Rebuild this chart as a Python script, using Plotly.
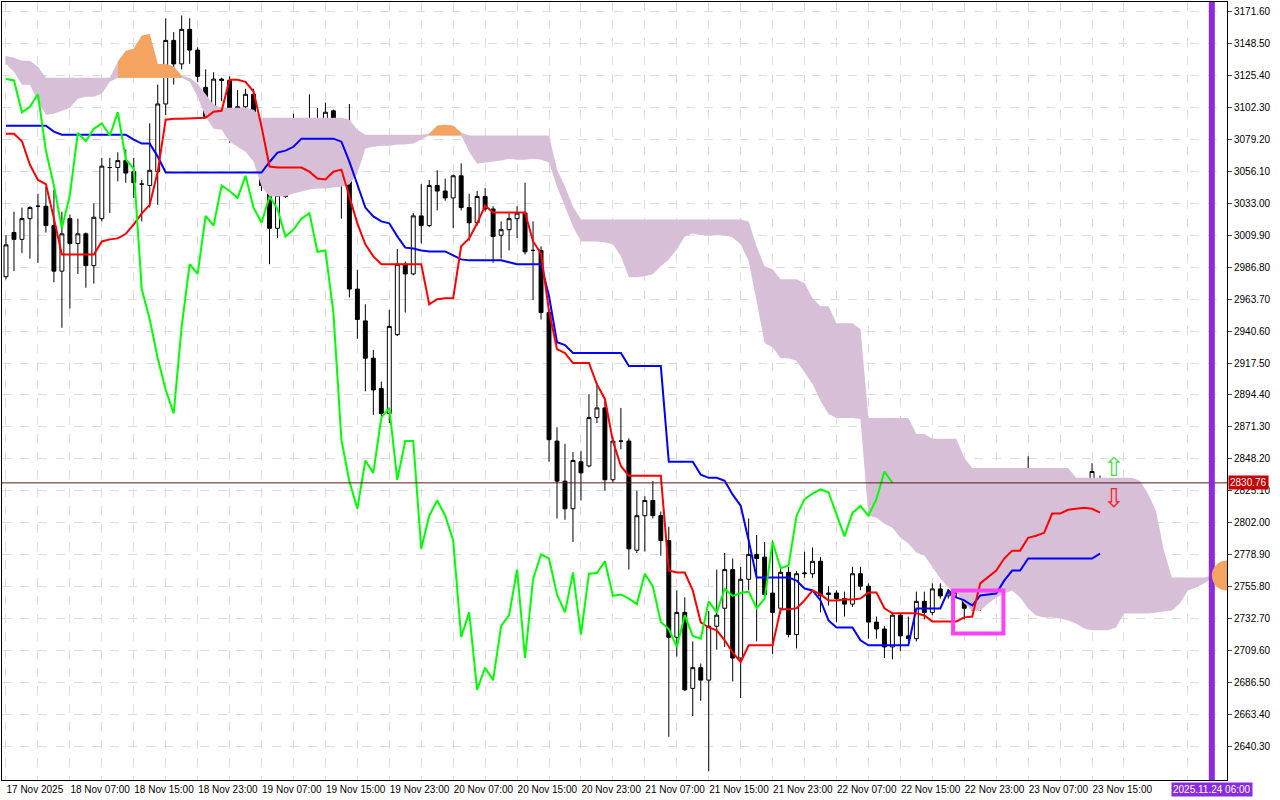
import plotly.graph_objects as go

# hourly bars, bar 0 = 17 Nov 2025 23:00
opens = [2980, 3012, 3007, 3022, 3031, 3031, 3017, 2984, 3022, 3004,
         3011, 2988, 3022, 3059, 3059, 3064, 3056, 3047, 3046, 3056,
         3105, 3151, 3134, 3159, 3144, 3117, 3096, 3123, 3122, 3099,
         3103, 3112, 3071, 3047, 3015, 3038, 3084, 3078, 3087, 3091,
         3082, 3100, 3066, 3059, 2971, 2948, 2921, 2899, 2881, 2938,
         2989, 2982, 3024, 3017, 3046, 3042, 3037, 3053, 3030, 3019,
         3038, 3029, 3010, 3014, 3022, 3026, 2999, 2999, 2954, 2861,
         2832, 2812, 2846, 2843, 2878, 2885, 2833, 2861, 2861, 2782,
         2807, 2818, 2807, 2789, 2719, 2737, 2682, 2697, 2688, 2727,
         2740, 2768, 2704, 2761, 2779, 2777, 2751, 2740, 2766, 2721,
         2765, 2765, 2774, 2751, 2751, 2747, 2743, 2765, 2756, 2730,
         2725, 2712, 2735, 2720, 2718, 2745, 2737, 2754, 2749, 2751,
         2750, 2740, 2747, 2788, 2769, 2771, 2807, 2819, 2823, 2826,
         2824, 2808, 2792, 2809, 2814, 2807, 2819, 2833]
highs = [3010, 3027, 3030, 3031, 3040, 3045, 3043, 3027, 3025, 3022,
         3012, 3033, 3066, 3066, 3070, 3072, 3066, 3050, 3091, 3119,
         3167, 3157, 3169, 3167, 3146, 3130, 3128, 3124, 3125, 3115,
         3116, 3116, 3073, 3052, 3047, 3087, 3098, 3092, 3112, 3102,
         3106, 3101, 3069, 3105, 2985, 2960, 2927, 2904, 2956, 3000,
         2991, 3026, 3047, 3050, 3057, 3051, 3054, 3062, 3040, 3042,
         3044, 3031, 3020, 3026, 3031, 3048, 3020, 3002, 2956, 2871,
         2859, 2853, 2854, 2895, 2903, 2890, 2864, 2885, 2863, 2825,
         2821, 2832, 2810, 2799, 2753, 2748, 2716, 2700, 2738, 2768,
         2780, 2776, 2770, 2805, 2793, 2788, 2789, 2770, 2770, 2767,
         2781, 2784, 2777, 2756, 2753, 2752, 2770, 2770, 2758, 2734,
         2727, 2737, 2736, 2734, 2752, 2752, 2758, 2758, 2754, 2756,
         2752, 2750, 2798, 2792, 2780, 2815, 2832, 2826, 2850, 2830,
         2826, 2810, 2812, 2821, 2816, 2825, 2845, 2836]
lows = [2978, 2984, 2997, 2993, 2990, 3012, 2976, 2943, 2957, 2982,
        2972, 2975, 3020, 3026, 3049, 3048, 3037, 3020, 3030, 3032,
        3097, 3119, 3130, 3134, 3121, 3095, 3094, 3107, 3077, 3083,
        3101, 3067, 3042, 2989, 3008, 3037, 3073, 3053, 3076, 3076,
        3080, 3055, 3022, 2965, 2935, 2897, 2880, 2879, 2874, 2937,
        2954, 2981, 3004, 3016, 3028, 3035, 3015, 3028, 3006, 3017,
        3027, 2990, 2993, 2999, 3008, 2996, 2963, 2949, 2846, 2805,
        2804, 2788, 2818, 2842, 2874, 2825, 2831, 2855, 2768, 2780,
        2781, 2805, 2778, 2647, 2705, 2680, 2662, 2673, 2622, 2710,
        2712, 2687, 2675, 2753, 2716, 2748, 2707, 2736, 2719, 2711,
        2762, 2762, 2737, 2742, 2730, 2734, 2741, 2753, 2718, 2718,
        2704, 2703, 2709, 2716, 2716, 2732, 2735, 2747, 2747, 2748,
        2732, 2738, 2738, 2767, 2766, 2770, 2806, 2808, 2818, 2820,
        2806, 2783, 2790, 2807, 2802, 2805, 2816, 2821]
closes = [3003, 3007, 3022, 3030, 3031, 3017, 2984, 3011, 3004, 3011,
          2988, 3023, 3060, 3059, 3064, 3055, 3048, 3047, 3057, 3105,
          3151, 3134, 3159, 3144, 3125, 3096, 3123, 3122, 3099, 3103,
          3112, 3071, 3046, 3015, 3039, 3084, 3078, 3087, 3091, 3082,
          3099, 3065, 3058, 2971, 2949, 2921, 2898, 2881, 2944, 2989,
          2982, 3024, 3017, 3046, 3042, 3037, 3053, 3030, 3019, 3038,
          3029, 3009, 3014, 3022, 3026, 2998, 2999, 2954, 2862, 2832,
          2812, 2847, 2838, 2878, 2885, 2833, 2861, 2861, 2783, 2807,
          2818, 2807, 2789, 2719, 2737, 2681, 2697, 2688, 2727, 2735,
          2768, 2704, 2761, 2779, 2776, 2750, 2737, 2766, 2721, 2765,
          2765.5, 2774, 2749, 2750, 2747, 2743, 2765, 2756, 2730, 2725,
          2712, 2735, 2720, 2718, 2745, 2737, 2754, 2749, 2751, 2752,
          2740, 2747, 2788, 2769, 2771, 2807, 2819, 2823, 2826, 2824,
          2808, 2792, 2809, 2814, 2807, 2819, 2839, 2830.76]

tenkan = [3083.5, 3083.5, 3078, 3061, 3050, 3047, 3022, 2996, 2996, 2996,
          2996, 2996, 3005.5, 3007, 3007.7, 3011, 3017.8, 3025.8, 3032, 3056,
          3093.6, 3094.3, 3094.3, 3094.6, 3095, 3095, 3099.4, 3100.1, 3122.5, 3122.5,
          3121, 3114, 3088.6, 3059.7, 3059, 3059, 3059, 3059, 3056, 3051,
          3050.3, 3056, 3057.5, 3038, 3018.6, 3003.4, 2994.7, 2989, 2989, 2989,
          2989, 2989, 2989, 2960, 2963.7, 2964.4, 2964.4, 3002, 3007.7, 3018.6,
          3031.5, 3026.5, 3026.5, 3026.5, 3026.5, 3026.5, 3005.5, 2996.9, 2955, 2927.6,
          2924.7, 2917.5, 2917.5, 2917.5, 2902, 2891.5, 2861, 2843, 2835.9, 2835.9,
          2835.9, 2835.9, 2835.9, 2767.3, 2765.9, 2765.9, 2752.9, 2729.8, 2726.1, 2724,
          2716.8, 2708, 2701, 2713.2, 2713.2, 2713.2, 2713.2, 2739.2, 2739.2, 2740,
          2745.7, 2752.9, 2750, 2745.7, 2745.7, 2746.4, 2746.4, 2747, 2751.4, 2751.4,
          2740, 2736.3, 2736.3, 2736.3, 2736.3, 2734.8, 2730.5, 2730.5, 2730.5, 2730.5,
          2733.4, 2734, 2758, 2763, 2767.3, 2776, 2781.7, 2781.7, 2791, 2792.5,
          2794.6, 2808.5, 2808.5, 2811.3, 2812, 2812.8, 2812, 2809.2]
kijun = ([3089.3] * 6 + [3085] + [3082.8] * 9 + [3079.2, 3076.3, 3076.3, 3067]
         + [3055.4] * 13 + [3063, 3069.8, 3071.2, 3074] + [3079.9] * 5
         + [3077.7, 3063.3, 3046.7, 3030, 3023.6, 3020, 3018.6, 3009.2, 3001, 3000.4, 2999]
         + [2998.3] * 3 + [2995.4, 2992.5] + [2991.8] * 5 + [2990.4] + [2989] * 4
         + [2965.8, 2932.6, 2930.5] + [2924.7] * 7 + [2915.3] * 5 + [2846] * 4
         + [2836.6, 2834.4, 2834.4, 2832.3, 2822.2, 2814.2, 2789] + [2762.3] * 5
         + [2760, 2754.3, 2752.9, 2745.7, 2731.2] + [2726.1] * 3 + [2716.8] + [2713.2] * 6
         + [2739.9] * 4 + [2752.9, 2747.8, 2745.7, 2742, 2749.3, 2750, 2750.7, 2760, 2767.3, 2767.3]
         + [2776] * 9 + [2779.6])

# cloud edges, bars 0..151 (includes the 26-bar projection)
kumo_upper = ([3139.8, 3138.4, 3136.2, 3136.2, 3131.9] + [3123.9] * 9
              + [3135.5, 3143.4, 3144.9, 3154.3, 3155.7, 3134.0, 3134.0, 3131.9, 3125.4]
              + [3123.9, 3119.6, 3112.4, 3104.4] + [3102.3] * 4 + [3100.8] + [3095.0] * 11
              + [3093.6, 3086.4] + [3082.8] * 8 + [3083.5, 3089.3, 3090.0, 3089.3, 3084.2]
              + [3082.1] * 11 + [3057.5, 3045.2, 3030.8] + [3021.4] * 21
              + [3020.0, 3001.9, 2987.5, 2985.3] + [2978.1] * 3 + [2975.2, 2964.4, 2958.6, 2958.6]
              + [2946.3] * 3 + [2942.0] + [2877.7] * 6 + [2866.2] * 2 + [2862.6] * 4 + [2848.9]
              + [2841.6] * 13 + [2834.4] * 8 + [2832.3, 2822.9, 2810.6, 2781.7] + [2762.2] * 5 + [2763.6])
kumo_lower = ([3134.0, 3128.3, 3118.9, 3118.9, 3106.6, 3097.2, 3097.9, 3100.1, 3102.3, 3108.8,
               3110.2, 3110.2, 3112.4, 3121.0] + [3123.9] * 9
              + [3121.0, 3110.2, 3095.8, 3087.1, 3086.4, 3077.7, 3074.1, 3070.5, 3063.3, 3045.2,
                 3038.0, 3038.0, 3038.0, 3040.2, 3041.6, 3043.1, 3043.8, 3043.8, 3044.5, 3045.2,
                 3046.7, 3054.6, 3072.7, 3074.1, 3074.8, 3074.8, 3075.6, 3075.6, 3076.3, 3079.2]
              + [3082.1] * 5
              + [3070.5, 3061.8, 3062.6, 3063.3, 3064.0, 3065.4, 3064.7, 3064.7, 3065.4, 3064.7,
                 3062.6, 3045.2, 3030.8, 3016.4, 3005.5, 3005.5, 3005.5, 3004.8, 3003.4, 2994.7,
                 2979.5, 2979.5, 2980.3, 2981.7, 2987.5, 2992.5, 2999.7, 3009.1, 3011.3, 3009.9,
                 3009.9, 3009.9, 3009.9, 3008.4, 3003.4, 2991.1, 2962.2, 2931.9, 2929.0, 2921.0,
                 2921.0, 2918.9, 2910.2, 2902.3, 2890.0, 2880.6, 2877.7, 2877.7, 2877.7, 2877.0,
                 2807.0, 2805.5, 2801.2, 2798.3, 2791.1, 2786.8, 2780.3, 2778.1, 2769.5, 2761.5,
                 2755.0, 2751.4, 2743.4, 2738.4, 2738.4, 2743.4, 2747.8, 2750.7, 2752.8, 2747.8,
                 2739.8, 2734.8, 2733.3, 2733.3, 2732.6, 2731.2, 2729.0, 2725.4, 2724.0, 2724.0,
                 2724.0, 2726.1, 2736.2, 2736.2, 2736.2, 2736.2, 2737.0, 2737.7, 2738.4, 2743.4,
                 2752.8, 2755.0, 2757.9, 2761.5])
bull_kumo = [(14, 22), (53, 57)]

tick_bars = list(range(0, 137, 8))
tick_labels = ["17 Nov 2025", "18 Nov 07:00", "18 Nov 15:00", "18 Nov 23:00", "19 Nov 07:00",
               "19 Nov 15:00", "19 Nov 23:00", "20 Nov 07:00", "20 Nov 15:00", "20 Nov 23:00",
               "21 Nov 07:00", "21 Nov 15:00", "21 Nov 23:00", "22 Nov 07:00", "22 Nov 15:00",
               "22 Nov 23:00", "23 Nov 07:00", "23 Nov 15:00"]
price_ticks = [3171.6 - 23.1 * k for k in range(24)]
last_price = 2830.76
chikou_shift = 26

bars = list(range(len(closes)))
kx = list(range(len(kumo_upper)))
lbl_font = dict(family="Liberation Sans", size=10, color="black")

fig = go.Figure()
fig.add_trace(go.Scatter(x=kx + kx[::-1], y=kumo_upper + kumo_lower[::-1], fill="toself",
                         fillcolor="#d8bfd8", line=dict(width=0), mode="lines", hoverinfo="skip"))
for a, b in bull_kumo:
    seg = list(range(a, b + 1))
    fig.add_trace(go.Scatter(x=seg + seg[::-1],
                             y=[kumo_upper[i] for i in seg] + [kumo_lower[i] for i in seg[::-1]],
                             fill="toself", fillcolor="#f4a460", line=dict(width=0),
                             mode="lines", hoverinfo="skip"))

fig.add_trace(go.Candlestick(x=bars, open=opens, high=highs, low=lows, close=closes,
                             increasing=dict(line=dict(color="black", width=1), fillcolor="white"),
                             decreasing=dict(line=dict(color="black", width=1), fillcolor="black"),
                             whiskerwidth=0))
fig.add_trace(go.Scatter(x=bars, y=kijun, mode="lines", line=dict(color="#0000ff", width=2)))
fig.add_trace(go.Scatter(x=bars, y=tenkan, mode="lines", line=dict(color="#ff0000", width=2)))
fig.add_trace(go.Scatter(x=[i - chikou_shift for i in bars[chikou_shift:]], y=closes[chikou_shift:],
                         mode="lines", line=dict(color="#00ff00", width=2)))

# markers drawn on the chart
fig.add_shape(type="line", x0=-0.5, x1=152.9, y0=last_price, y1=last_price,
              line=dict(color="#5a1a1a", width=1))
fig.add_shape(type="line", x0=151, x1=151, y0=0, y1=1, yref="paper",
              line=dict(color="#8a2be2", width=6))
fig.add_shape(type="rect", x0=118.6, x1=124.9, y0=2721.8, y1=2752.9,
              line=dict(color="#ff40ff", width=4))
fig.add_shape(type="circle", x0=151.0, x1=154.8, y0=2752.8, y1=2774.5,
              fillcolor="#f4a460", line=dict(width=0))
fig.add_annotation(x=138.7, y=2842, text="⇧", showarrow=False,
                   font=dict(size=26, color="#44dd44"))
fig.add_annotation(x=138.7, y=2820, text="⇩", showarrow=False,
                   font=dict(size=26, color="#ff2020"))
fig.add_annotation(x=1, xref="paper", y=last_price, text="2830.76", showarrow=False,
                   xanchor="left", xshift=1, bgcolor="#c80000", borderpad=1,
                   font=dict(family="Liberation Sans", size=10, color="white"))
fig.add_annotation(x=151, y=0, yref="paper", yanchor="top", yshift=-2, text="2025.11.24 06:00",
                   showarrow=False, bgcolor="#8a2be2", borderpad=1,
                   font=dict(family="Liberation Sans", size=10, color="white"))

grid = dict(showgrid=True, gridcolor="#dcdcdc", griddash="dash", gridwidth=1)
fig.update_layout(
    width=1280, height=800, showlegend=False,
    paper_bgcolor="white", plot_bgcolor="white",
    margin=dict(l=2, r=53, t=2, b=20),
    font=lbl_font,
    xaxis=dict(range=[-0.5, 152.9], tickvals=tick_bars, ticktext=tick_labels, tickangle=0,
               ticklabelposition="outside right", ticks="", rangeslider=dict(visible=False),
               automargin=False, tickfont=lbl_font,
               showline=True, linecolor="black", mirror=True, zeroline=False,
               minor=dict(tickvals=list(range(4, 153, 8)), showgrid=True,
                          gridcolor="#dcdcdc", griddash="dash"), **grid),
    yaxis=dict(range=[2615.7, 3178.8], side="right", tickvals=price_ticks,
               ticktext=[f"{p:.2f}" for p in price_ticks], ticks="outside", ticklen=4,
               automargin=False, tickfont=lbl_font,
               showline=True, linecolor="black", mirror=True, zeroline=False, **grid),
)

fig.write_html("out.html", config={"displayModeBar": False},
               post_script="document.body.style.margin='0';")
